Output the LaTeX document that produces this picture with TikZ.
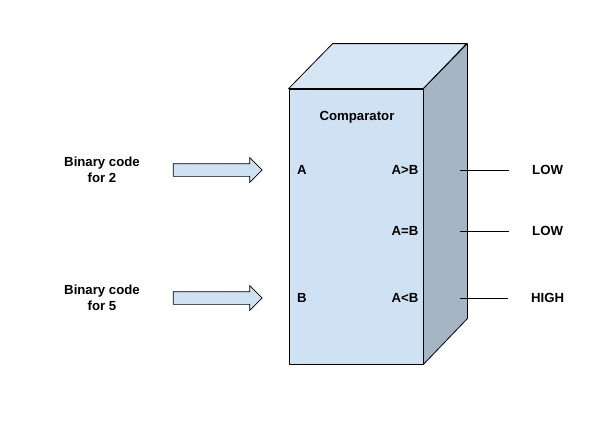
\documentclass[tikz,border=0pt]{standalone}
\usepackage{fontspec}
\setmainfont{Liberation Sans}
\usepackage{xcolor}
\definecolor{cubefront}{RGB}{207,226,243}
\definecolor{cubetop}{RGB}{214,230,245}
\definecolor{cubeside}{RGB}{166,181,196}
\usetikzlibrary{positioning,shapes.arrows}
\tikzset{
  cmp label/.style={font=\fontsize{13.2}{15.5}\selectfont\bfseries, align=center, inner sep=1pt},
  cmp face/.style={draw, line width=0.8pt, line join=round},
  cmp arrow/.style={draw, single arrow, fill=cubefront, line width=0.7pt, minimum height=89pt, inner sep=0pt, inner ysep=6pt, single arrow head extend=6pt},
  cmp line/.style={line width=0.7pt, shorten >=22pt},
}
\begin{document}
\begin{tikzpicture}[x=1pt,y=-1pt]
  \useasboundingbox (0,0) rectangle (603,423);
  % comparator block
  \node[cmp face, fill=cubefront, minimum width=134pt, minimum height=275pt, inner sep=0pt] (cube) at (356,226.5) {};
  \draw[cmp face, fill=cubetop] (cube.north west) -- ++(44,-45) -- ++(134,0) -- (cube.north east) -- cycle;
  \draw[cmp face, fill=cubeside] (cube.north east) -- ++(44,-45) -- ++(0,275) -- (cube.south east) -- cycle;
  \node[cmp label] (title) at (357,117) {Comparator};
  % inputs
  \node[cmp label] (inA) at (302,170) {A};
  \node[cmp label] (inB) at (302,298) {B};
  \node[cmp arrow] (arrA) at (214.5,170) {};
  \node[cmp arrow] (arrB) at (214.5,298) {};
  \node[cmp label] (codeA) at (102,170) {Binary code\\for 2};
  \node[cmp label] (codeB) at (102,298) {Binary code\\for 5};
  % outputs
  \node[cmp label] (gt) at (405,170) {A>B};
  \node[cmp label] (eq) at (405,231) {A=B};
  \node[cmp label] (lt) at (405,298) {A<B};
  \coordinate (o1) at (460,170);
  \coordinate (o2) at (460,231);
  \coordinate (o3) at (460,298);
  \node[cmp label, anchor=west] (r1) at (531,170) {LOW};
  \node[cmp label, anchor=west] (r2) at (531,231) {LOW};
  \node[cmp label, anchor=west] (r3) at (530,298) {HIGH};
  \draw[cmp line] (o1) -- (r1.west);
  \draw[cmp line] (o2) -- (r2.west);
  \draw[cmp line] (o3) -- (r3.west);
\end{tikzpicture}
\end{document}
